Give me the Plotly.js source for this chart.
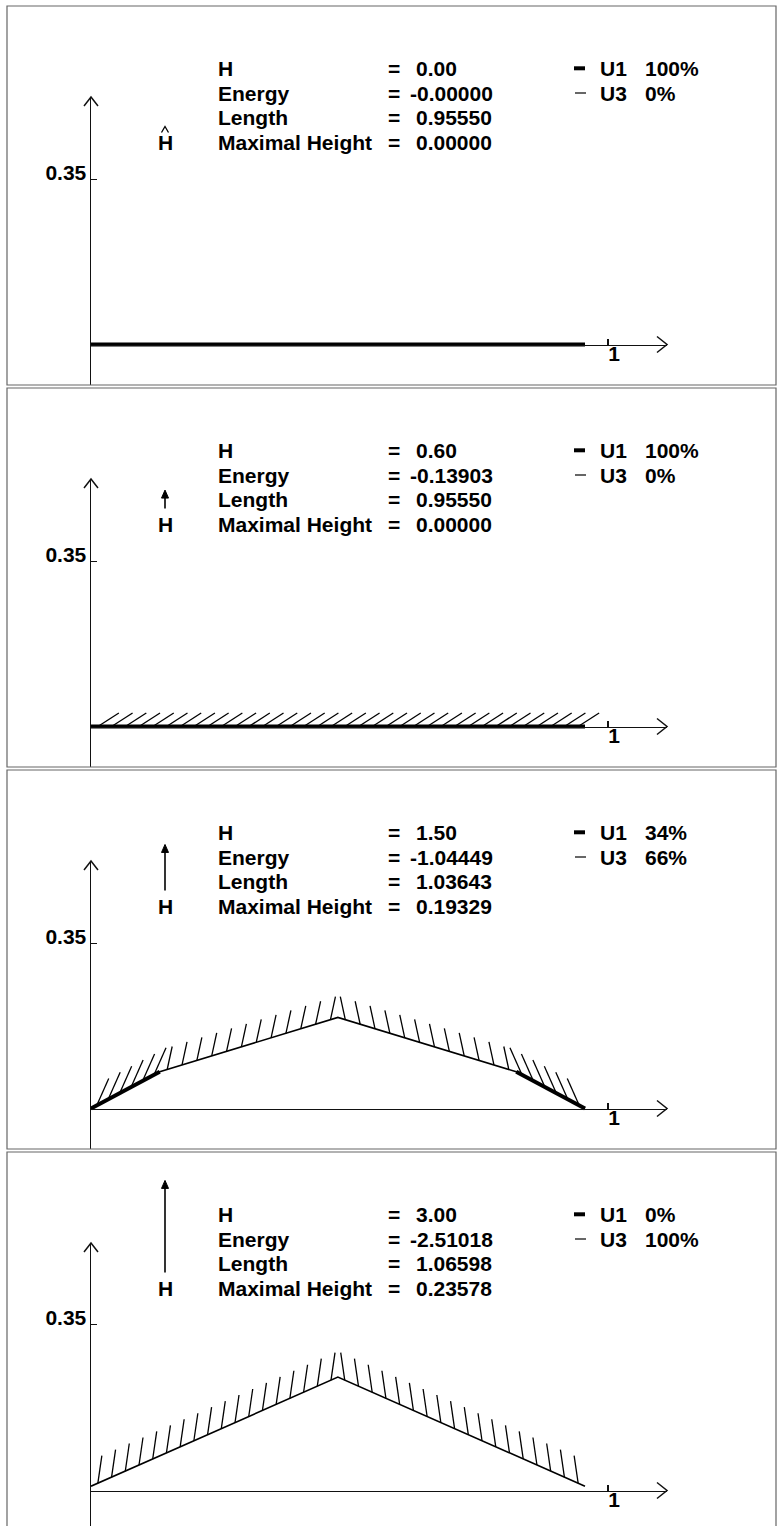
<!DOCTYPE html>
<html>
<head>
<meta charset="utf-8">
<script src="https://cdn.plot.ly/plotly-3.0.1.min.js"></script>
<style>
html,body{margin:0;padding:0;background:#fff;}
#chart{width:777px;height:1526px;}
</style>
</head>
<body>
<div id="chart"></div>
<script>
// ---------------- data ----------------
const hLabels      = ['0.00', '0.60', '1.50', '3.00'];
const hValues      = [0, 0.6, 1.5, 3.0];
const energyLabels = ['-0.00000', '-0.13903', '-1.04449', '-2.51018'];
const lengthLabels = ['0.95550', '0.95550', '1.03643', '1.06598'];
const maxHLabels   = ['0.00000', '0.00000', '0.19329', '0.23578'];
const u1Labels     = ['100%', '100%', '34%', '0%'];
const u3Labels     = ['0%', '0%', '66%', '100%'];
const rowNames     = ['H', 'Energy', 'Length', 'Maximal Height'];

// profile vertices of each panel
const profileX = [
  [0, 0.9555],
  [0, 0.9555],
  [0, 0.133, 0.4775, 0.8225, 0.9555],
  [0, 0.4775, 0.9555]
];
const profileY = [
  [0, 0],
  [0, 0],
  [0, 0.078, 0.19329, 0.078, 0],
  [0, 0.23578, 0]
];
// segments drawn thick (U1 part): [startIndex, endIndex]
const thickSegments = [
  [[0, 1]],
  [[0, 1]],
  [[0, 1], [3, 4]],
  []
];
// hatch count per segment (0 = none)
const hatchCounts = [
  [0],
  [36],
  [6, 12, 12, 6],
  [18, 18]
];

const xTickVals = [1];
const xTickText = ['1'];
const yTickVals = [0.35];
const yTickText = ['0.35'];

// ---------------- styling / geometry ----------------
const W = 777, HGT = 1526;
const PANEL_STEP = 382;
const X0PX = 91, X1PX = 667;      // plot area horizontal extent
const Y0PX = 344.5;               // y=0 line in first panel
const YTOPPX = 97, YBOTPX = 385;  // plot area vertical extent in first panel
const SX = 517, SY = 471;         // px per unit
// hatch direction vectors (px, up positive) per segment
const hatchVec = [
  [[0, 0]],
  [[21, 13.5]],
  [[12, 27], [5, 23], [-5, 23], [-12, 27]],
  [[4, 28], [-4, 28]]
];
const FONT = {family: 'Liberation Sans, Arial, Helvetica, sans-serif', size: 21, color: '#000', weight: 'bold'};

const px = v => v / W;
const py = v => 1 - v / HGT;

const data = [];
const shapes = [];
const annotations = [];
const layout = {
  width: W, height: HGT,
  margin: {l: 0, r: 0, t: 0, b: 0, pad: 0},
  paper_bgcolor: '#fff', plot_bgcolor: 'rgba(0,0,0,0)',
  showlegend: false,
  shapes: shapes, annotations: annotations
};

const xRange = [0, (X1PX - X0PX) / SX];
const yRange = [-(YBOTPX - Y0PX) / SY, (Y0PX - YTOPPX) / SY];

for (let k = 0; k < 4; k++) {
  const off = k * PANEL_STEP;
  const xa = k === 0 ? 'xaxis' : 'xaxis' + (k + 1);
  const ya = k === 0 ? 'yaxis' : 'yaxis' + (k + 1);
  const xr = k === 0 ? 'x' : 'x' + (k + 1);
  const yr = k === 0 ? 'y' : 'y' + (k + 1);

  layout[ya] = {
    domain: [py(YBOTPX + off), py(YTOPPX + off)],
    range: yRange, anchor: xr,
    showline: true, linecolor: '#111', linewidth: 1.5,
    showgrid: false, zeroline: false,
    ticks: 'inside', ticklen: 6, tickwidth: 1.2, tickcolor: '#111',
    tickvals: yTickVals, ticktext: yTickText,
    tickfont: FONT, ticklabelshift: -7, ticklabelstandoff: -1,
    fixedrange: true
  };
  layout[xa] = {
    domain: [px(X0PX), px(X1PX)],
    range: xRange, anchor: 'free',
    position: py(Y0PX + off),
    showline: true, linecolor: '#111', linewidth: 1.5,
    showgrid: false, zeroline: false,
    ticks: 'inside', ticklen: 6, tickwidth: 1.2, tickcolor: '#111',
    tickvals: xTickVals, ticktext: xTickText,
    tickfont: FONT, ticklabelshift: 6, ticklabelstandoff: -10,
    fixedrange: true
  };

  // frame
  shapes.push({type: 'rect', xref: 'paper', yref: 'paper',
    x0: px(7), x1: px(776), y0: py(6 + off), y1: py(385 + off),
    line: {color: '#666', width: 1.2}});

  // axis arrowheads (open chevrons) at the ends of the axis domains
  shapes.push({type: 'path', xref: 'paper', yref: 'paper', xsizemode: 'pixel', ysizemode: 'pixel',
    xanchor: layout[xa].domain[0], yanchor: layout[ya].domain[1], path: 'M -7,-9 L 0,0 L 7,-9',
    line: {color: '#111', width: 1.5}});
  shapes.push({type: 'path', xref: 'paper', yref: 'paper', xsizemode: 'pixel', ysizemode: 'pixel',
    xanchor: layout[xa].domain[1], yanchor: layout[xa].position, path: 'M -10,8 L 0,0 L -10,-8',
    line: {color: '#111', width: 1.5}});

  // profile (thin)
  data.push({type: 'scatter', mode: 'lines', xaxis: xr, yaxis: yr,
    x: profileX[k], y: profileY[k], line: {color: '#000', width: 1.6},
    hoverinfo: 'skip'});
  // thick U1 parts
  thickSegments[k].forEach(s => {
    data.push({type: 'scatter', mode: 'lines', xaxis: xr, yaxis: yr,
      x: profileX[k].slice(s[0], s[1] + 1), y: profileY[k].slice(s[0], s[1] + 1),
      line: {color: '#000', width: 4}, hoverinfo: 'skip'});
  });
  // hatching
  const hx = [], hy = [];
  hatchCounts[k].forEach((n, si) => {
    if (!n) return;
    const xa0 = profileX[k][si], xa1 = profileX[k][si + 1];
    const ya0 = profileY[k][si], ya1 = profileY[k][si + 1];
    const v = hatchVec[k][si];
    for (let i = 0; i < n; i++) {
      const t = (i + 0.5) / n;
      const bx = xa0 + (xa1 - xa0) * t, by = ya0 + (ya1 - ya0) * t;
      hx.push(bx, bx + v[0] / SX, null);
      hy.push(by, by + v[1] / SY, null);
    }
  });
  if (hx.length) {
    data.push({type: 'scatter', mode: 'lines', xaxis: xr, yaxis: yr,
      x: hx, y: hy, line: {color: '#000', width: 1.3}, hoverinfo: 'skip'});
  }

  // text block
  const rows = [68.3, 93, 117.5, 142.5];
  const vals = [hLabels[k], energyLabels[k], lengthLabels[k], maxHLabels[k]];
  rows.forEach((ry, i) => {
    annotations.push({xref: 'paper', yref: 'paper', x: px(216), y: py(ry + off),
      xanchor: 'left', yanchor: 'middle', text: rowNames[i], showarrow: false, font: FONT});
    annotations.push({xref: 'paper', yref: 'paper', x: px(386), y: py(ry + off),
      xanchor: 'left', yanchor: 'middle', text: '=', showarrow: false, font: FONT});
    const neg = vals[i].charAt(0) === '-';
    annotations.push({xref: 'paper', yref: 'paper', x: px(neg ? 408 : 414), y: py(ry + off),
      xanchor: 'left', yanchor: 'middle', text: vals[i], showarrow: false, font: FONT});
  });
  // legend
  annotations.push({xref: 'paper', yref: 'paper', x: px(598), y: py(rows[0] + off),
    xanchor: 'left', yanchor: 'middle', text: 'U1', showarrow: false, font: FONT});
  annotations.push({xref: 'paper', yref: 'paper', x: px(643), y: py(rows[0] + off),
    xanchor: 'left', yanchor: 'middle', text: u1Labels[k], showarrow: false, font: FONT});
  annotations.push({xref: 'paper', yref: 'paper', x: px(598), y: py(rows[1] + off),
    xanchor: 'left', yanchor: 'middle', text: 'U3', showarrow: false, font: FONT});
  annotations.push({xref: 'paper', yref: 'paper', x: px(643), y: py(rows[1] + off),
    xanchor: 'left', yanchor: 'middle', text: u3Labels[k], showarrow: false, font: FONT});
  shapes.push({type: 'line', xref: 'paper', yref: 'paper',
    x0: px(574), x1: px(585), y0: py(rows[0] + off), y1: py(rows[0] + off),
    line: {color: '#000', width: 4}});
  shapes.push({type: 'line', xref: 'paper', yref: 'paper',
    x0: px(575), x1: px(586), y0: py(rows[1] + off), y1: py(rows[1] + off),
    line: {color: '#000', width: 1.2}});

  // load indicator: H label with arrow whose length follows H
  annotations.push({xref: 'paper', yref: 'paper', x: px(165), y: py(rows[3] + off),
    xanchor: 'center', yanchor: 'middle', text: 'H', showarrow: false, font: FONT});
  const L = hValues[k] * 30.7;
  const baseY = rows[3] + off - 16;
  if (L > 0) {
    shapes.push({type: 'path', xref: 'paper', yref: 'paper', xsizemode: 'pixel', ysizemode: 'pixel',
      xanchor: px(165), yanchor: py(baseY), path: 'M 0,0 L 0,' + (L - 4),
      line: {color: '#000', width: 1.6}});
    shapes.push({type: 'path', xref: 'paper', yref: 'paper', xsizemode: 'pixel', ysizemode: 'pixel',
      xanchor: px(165), yanchor: py(baseY),
      path: 'M -3.5,' + (L - 8) + ' L 0,' + L + ' L 3.5,' + (L - 8) + ' Z',
      fillcolor: '#000', line: {color: '#000', width: 1}});
  } else {
    shapes.push({type: 'path', xref: 'paper', yref: 'paper', xsizemode: 'pixel', ysizemode: 'pixel',
      xanchor: px(165), yanchor: py(baseY), path: 'M -3.5,-6 L 0,0 L 3.5,-6',
      line: {color: '#000', width: 1.3}});
  }
}

Plotly.newPlot('chart', data, layout, {staticPlot: true, displayModeBar: false});
</script>
</body>
</html>
